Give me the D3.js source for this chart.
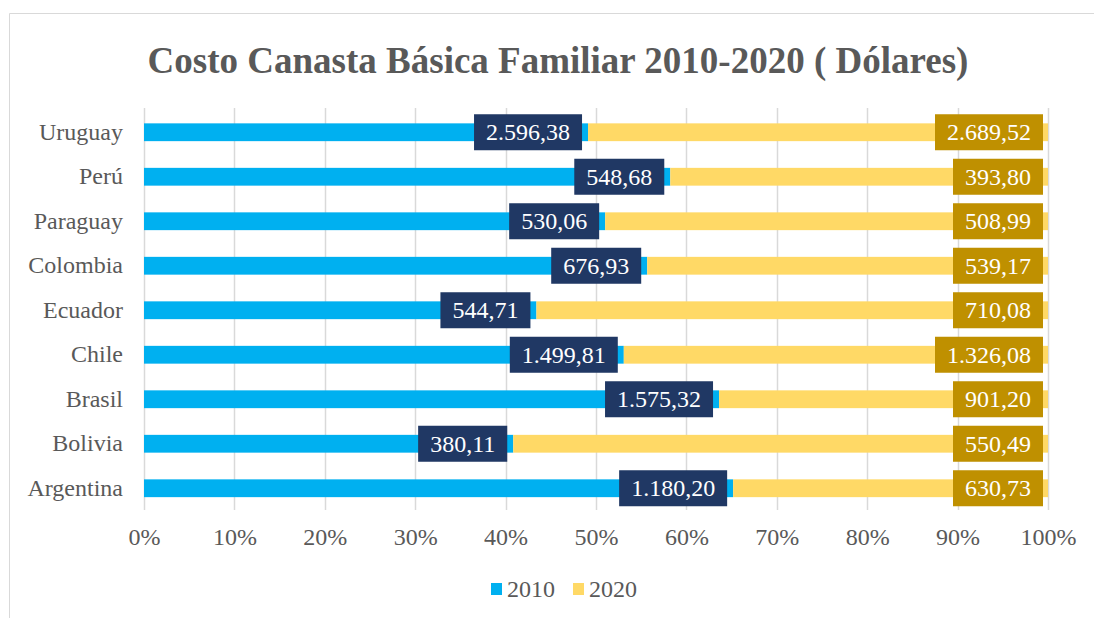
<!DOCTYPE html>
<html><head><meta charset="utf-8">
<script src="https://cdn.jsdelivr.net/npm/d3@7"></script>
<style>body{margin:0;background:#fff}svg{display:block}</style>
</head><body><svg id="c" width="1094" height="618"></svg>
<script>
const countries = ["Uruguay","Perú","Paraguay","Colombia","Ecuador","Chile","Brasil","Bolivia","Argentina"];
const values2010 = [2596.38,548.68,530.06,676.93,544.71,1499.81,1575.32,380.11,1180.20];
const values2020 = [2689.52,393.80,508.99,539.17,710.08,1326.08,901.20,550.49,630.73];
const seriesNames = ["2010","2020"];
const tickValues = [0,0.1,0.2,0.3,0.4,0.5,0.6,0.7,0.8,0.9,1];

const FONT = '"Liberation Serif"';
const svg = d3.select("#c");
const fmt = d3.formatLocale({decimal:",",thousands:".",grouping:[3],currency:["",""]}).format(",.2f");
const pct = d3.format(".0%");
const colors = {"2010":"#00b0f0","2020":"#ffd966"};
const labelBg = {"2010":"#203864","2020":"#bf9000"};

// chart border
svg.append("path").attr("d","M9.5,618 L9.5,13.5 L1094,13.5").attr("fill","none").attr("stroke","#d9d9d9").attr("stroke-width",1);

svg.append("text").attr("x",558).attr("y",73).attr("text-anchor","middle")
  .style("font-family",FONT).attr("font-size",37).attr("font-weight","bold").attr("fill","#595959")
  .text("Costo Canasta Básica Familiar 2010-2020 ( Dólares)");

const x = d3.scaleLinear().domain([0,1]).range([144,1048]);
const y = d3.scaleBand().domain(countries).range([110,510.5]).paddingInner(0.6).paddingOuter(0.3);

// gridlines
svg.append("g").selectAll("line").data(tickValues).join("line")
  .attr("x1",d=>Math.round(x(d))+0.5).attr("x2",d=>Math.round(x(d))+0.5)
  .attr("y1",108).attr("y2",510).attr("stroke","#d9d9d9").attr("stroke-width",1.5);

// axis labels
const xAxis = d3.axisBottom(x).tickValues(tickValues).tickFormat(pct).tickSize(0).tickPadding(0);
const ax = svg.append("g").attr("transform","translate(0,545)").call(xAxis)
  .attr("font-family",null).attr("font-size",null);
ax.select(".domain").remove();
ax.selectAll("text").style("font-family",FONT).attr("font-size",24).attr("fill","#595959").attr("dy","0");

const yAxis = d3.axisLeft(y).tickSize(0).tickPadding(0);
const ay = svg.append("g").attr("transform","translate(123,0)").call(yAxis)
  .attr("font-family",null).attr("font-size",null);
ay.select(".domain").remove();
ay.selectAll("text").style("font-family",FONT).attr("font-size",24).attr("fill","#595959").attr("dy","0.32em");

const rows = countries.map((c,i)=>{
  const t = values2010[i]+values2020[i];
  return {country:c, segs:[
    {s:"2010", v:values2010[i], x0:0, x1:values2010[i]/t},
    {s:"2020", v:values2020[i], x0:values2010[i]/t, x1:1}
  ]};
});

const g = svg.append("g");
rows.forEach(r=>{
  r.segs.forEach(sg=>{
    g.append("rect").attr("x",x(sg.x0)).attr("width",x(sg.x1)-x(sg.x0))
      .attr("y",y(r.country)).attr("height",y.bandwidth()).attr("fill",colors[sg.s]);
  });
});
rows.forEach(r=>{
  r.segs.forEach(sg=>{
    const cy = y(r.country)+y.bandwidth()/2;
    const right = x(sg.x1) - (sg.s==="2010"?6:5);
    const lg = g.append("g");
    const rect = lg.append("rect").attr("fill",labelBg[sg.s]);
    const t = lg.append("text").style("font-family",FONT).attr("font-size",24).attr("fill","#fff").attr("text-anchor","end")
      .attr("x",right-12).attr("y",cy).attr("dy","0.34em").text(fmt(sg.v));
    const w = t.node().getComputedTextLength();
    rect.attr("x",right-w-24).attr("width",w+24).attr("y",cy-18).attr("height",36);
  });
});

// legend
const leg = svg.append("g");
const legItems = [{s:"2010",x:491},{s:"2020",x:573}];
legItems.forEach(d=>{
  leg.append("rect").attr("x",d.x).attr("y",583).attr("width",11).attr("height",12).attr("fill",colors[d.s]);
  leg.append("text").attr("x",d.x+16).attr("y",589).attr("dy","0.34em").style("font-family",FONT).attr("font-size",24).attr("fill","#595959").text(d.s);
});
</script></body></html>
